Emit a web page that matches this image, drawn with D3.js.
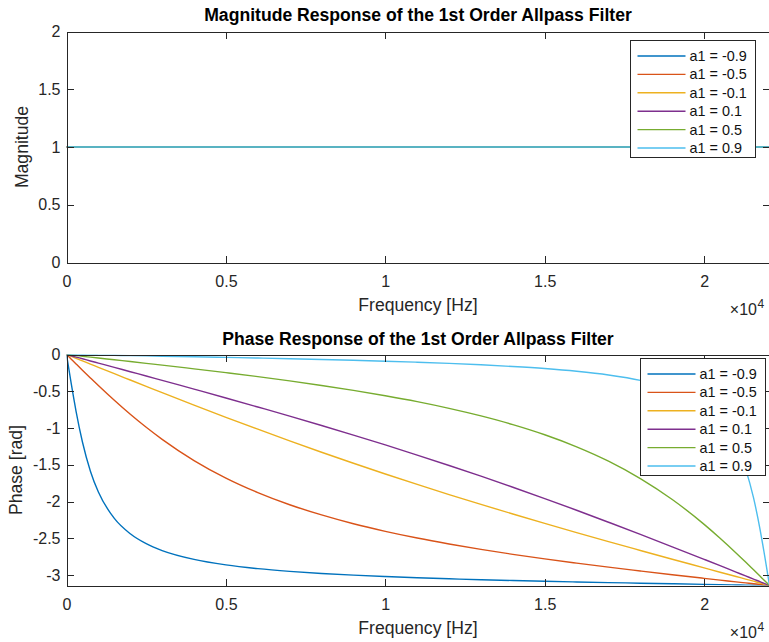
<!DOCTYPE html>
<html>
<head>
<meta charset="utf-8">
<script src="https://cdn.jsdelivr.net/npm/d3@7"></script>
<style>
body { margin: 0; background: #fff; }
svg { display: block; font-family: "Liberation Sans", Arial, Helvetica, sans-serif; }
</style>
</head>
<body>
<div class="container"></div>
<script>
// Allpass filter responses for six values of a1, sampled 0 .. fs/2 (Hz)
const seriesNames = ['a1 = -0.9', 'a1 = -0.5', 'a1 = -0.1', 'a1 = 0.1', 'a1 = 0.5', 'a1 = 0.9']
const colors = ['#0072BD', '#D95319', '#EDB120', '#7E2F8E', '#77AC30', '#4DBEEE']

// magnitude is flat for every a1
const magFreqs = [0, 5000, 10000, 15000, 20000, 22050]
const magM09 = [1, 1, 1, 1, 1, 1]
const magM05 = [1, 1, 1, 1, 1, 1]
const magM01 = [1, 1, 1, 1, 1, 1]
const magP01 = [1, 1, 1, 1, 1, 1]
const magP05 = [1, 1, 1, 1, 1, 1]
const magP09 = [1, 1, 1, 1, 1, 1]

const freqs = [0, 150, 300, 500, 750, 1000, 1500, 2000, 2500, 3000, 4000, 5000, 6000, 7000, 8000, 9000, 10000,
	11000, 12000, 13000, 14000, 15000, 16000, 17000, 18000, 19000, 20000, 20500, 21000, 21300, 21550, 21750, 21900, 22000, 22050]

const phaseM09 = [0, -0.401, -0.772, -1.190, -1.587, -1.871, -2.229, -2.438, -2.573, -2.666, -2.786, -2.861, -2.912, -2.949, -2.978, -3.001, -3.020,
	-3.036, -3.050, -3.063, -3.074, -3.084, -3.093, -3.102, -3.110, -3.118, -3.126, -3.130, -3.134, -3.136, -3.138, -3.139, -3.141, -3.141, -3.142]
const phaseM05 = [0, -0.064, -0.128, -0.213, -0.318, -0.422, -0.623, -0.813, -0.990, -1.154, -1.442, -1.681, -1.878, -2.043, -2.182, -2.302, -2.405,
	-2.496, -2.577, -2.651, -2.718, -2.780, -2.837, -2.892, -2.944, -2.995, -3.044, -3.068, -3.092, -3.106, -3.118, -3.127, -3.135, -3.139, -3.142]
const phaseM01 = [0, -0.026, -0.052, -0.087, -0.131, -0.174, -0.261, -0.347, -0.433, -0.519, -0.688, -0.854, -1.016, -1.175, -1.329, -1.479, -1.625,
	-1.767, -1.905, -2.039, -2.169, -2.297, -2.422, -2.545, -2.665, -2.784, -2.902, -2.961, -3.019, -3.054, -3.083, -3.107, -3.124, -3.136, -3.142]
const phaseP01 = [0, -0.017, -0.035, -0.058, -0.088, -0.117, -0.175, -0.234, -0.292, -0.352, -0.471, -0.591, -0.714, -0.838, -0.966, -1.096, -1.230,
	-1.368, -1.510, -1.655, -1.805, -1.959, -2.118, -2.281, -2.446, -2.615, -2.786, -2.872, -2.959, -3.011, -3.055, -3.089, -3.116, -3.133, -3.142]
const phaseP05 = [0, -0.007, -0.014, -0.024, -0.036, -0.048, -0.072, -0.096, -0.120, -0.144, -0.195, -0.247, -0.301, -0.359, -0.421, -0.488, -0.561,
	-0.641, -0.732, -0.835, -0.953, -1.091, -1.255, -1.450, -1.687, -1.972, -2.310, -2.499, -2.699, -2.823, -2.929, -3.014, -3.078, -3.120, -3.142]
const phaseP09 = [0, -0.001, -0.002, -0.004, -0.006, -0.008, -0.011, -0.015, -0.019, -0.023, -0.031, -0.039, -0.048, -0.057, -0.067, -0.079, -0.091,
	-0.105, -0.121, -0.140, -0.163, -0.191, -0.228, -0.278, -0.351, -0.468, -0.687, -0.886, -1.225, -1.555, -1.951, -2.370, -2.741, -3.006, -3.142]

const xTicks = [0, 5000, 10000, 15000, 20000]
const xTickLabels = ['0', '0.5', '1', '1.5', '2']
const magTicks = [0, 0.5, 1, 1.5, 2]
const magTickLabels = ['0', '0.5', '1', '1.5', '2']
const phaseTicks = [0, -0.5, -1, -1.5, -2, -2.5, -3]
const phaseTickLabels = ['0', '-0.5', '-1', '-1.5', '-2', '-2.5', '-3']

const axisColor = '#262626'

var svg = d3.select('.container')
.append('svg')
.attr('width', 769)
.attr('height', 642);

function drawPanel(p) {
	var x = d3.scaleLinear().domain([0, 22050]).range([66.5, 769.5])
	var y = d3.scaleLinear().domain(p.yDomain).range(p.yRange)
	var left = x.range()[0], right = x.range()[1]
	var top = Math.min(p.yRange[0], p.yRange[1]), bottom = Math.max(p.yRange[0], p.yRange[1])

	var g = svg.append('g')

	g.append('clipPath')
	.attr('id', p.id + '-clip')
	.append('rect')
	.attr('x', left)
	.attr('y', top)
	.attr('width', right - left)
	.attr('height', bottom - top)

	// curves
	var line = d3.line()
	.x(d => x(d[0]))
	.y(d => y(d[1]))
	.curve(d3.curveMonotoneX)

	p.series.forEach((vals, i) => {
		g.append('path')
		.datum(p.freqs.map((f, j) => [f, vals[j]]))
		.attr('clip-path', 'url(#' + p.id + '-clip)')
		.attr('fill', 'none')
		.attr('stroke', colors[i])
		.attr('stroke-width', 1.4)
		.attr('d', line)
	})

	// box with inward ticks on all four sides
	var xb = g.append('g')
	.attr('transform', 'translate(0,' + bottom + ')')
	.call(d3.axisBottom(x).tickValues(xTicks).tickFormat((d, i) => xTickLabels[i]).tickSizeInner(-7).tickSizeOuter(0))
	xb.selectAll('text').attr('dy', null).attr('y', 24).style('font-size', '16px')

	g.append('g')
	.attr('transform', 'translate(0,' + top + ')')
	.call(d3.axisTop(x).tickValues(xTicks).tickFormat('').tickSizeInner(-7).tickSizeOuter(0))

	var yl = g.append('g')
	.attr('transform', 'translate(' + left + ',0)')
	.call(d3.axisLeft(y).tickValues(p.yTicks).tickFormat((d, i) => p.yTickLabels[i]).tickSizeInner(-7).tickSizeOuter(0).tickPadding(6))
	yl.selectAll('text').style('font-size', '16px')

	g.append('g')
	.attr('transform', 'translate(' + right + ',0)')
	.call(d3.axisRight(y).tickValues(p.yTicks).tickFormat('').tickSizeInner(-7).tickSizeOuter(0))

	g.selectAll('.domain, .tick line')
	.attr('stroke', axisColor)
	.attr('shape-rendering', 'crispEdges')
	g.selectAll('.tick text').attr('fill', axisColor)
	g.selectAll('.tick').each(function () { d3.select(this.parentNode).attr('font-family', null) })

	// title and labels
	g.append('text')
	.attr('x', 418)
	.attr('y', p.titleY)
	.attr('text-anchor', 'middle')
	.attr('font-weight', 'bold')
	.attr('font-size', 17.6)
	.attr('fill', '#000')
	.text(p.title)

	g.append('text')
	.attr('x', 418)
	.attr('y', bottom + 48.5)
	.attr('text-anchor', 'middle')
	.attr('font-size', 17.6)
	.attr('fill', axisColor)
	.text('Frequency [Hz]')

	g.append('text')
	.attr('transform', 'translate(' + p.yLabelX + ',' + ((top + bottom) / 2) + ') rotate(-90)')
	.attr('text-anchor', 'middle')
	.attr('font-size', 17.6)
	.attr('fill', axisColor)
	.text(p.yLabel)

	// exponent label
	g.append('text')
	.attr('x', 757)
	.attr('y', bottom + 52)
	.attr('text-anchor', 'end')
	.attr('font-size', 16)
	.attr('fill', axisColor)
	.text('\u00d710')
	g.append('text')
	.attr('x', 757.5)
	.attr('y', bottom + 45)
	.attr('font-size', 12)
	.attr('fill', axisColor)
	.text('4')

	// legend
	var lg = g.append('g')
	.attr('transform', 'translate(' + p.legendX + ',' + p.legendY + ')')
	lg.append('rect')
	.attr('width', 125)
	.attr('height', 117)
	.attr('fill', '#fff')
	.attr('stroke', axisColor)
	.attr('shape-rendering', 'crispEdges')
	seriesNames.forEach((name, i) => {
		var ry = 15.5 + i * 18.4
		lg.append('line')
		.attr('x1', 7)
		.attr('x2', 55)
		.attr('y1', ry)
		.attr('y2', ry)
		.attr('stroke', colors[i])
		.attr('stroke-width', 1.4)
		lg.append('text')
		.attr('x', 59)
		.attr('y', ry)
		.attr('dy', '0.35em')
		.attr('font-size', 14.4)
		.attr('fill', '#111')
		.text(name)
	})
}

drawPanel({
	id: 'mag',
	title: 'Magnitude Response of the 1st Order Allpass Filter',
	titleY: 21,
	yLabel: 'Magnitude',
	yLabelX: 28,
	yDomain: [0, 2],
	yRange: [262.5, 31.5],
	yTicks: magTicks,
	yTickLabels: magTickLabels,
	freqs: magFreqs,
	series: [magM09, magM05, magM01, magP01, magP05, magP09],
	legendX: 630.5,
	legendY: 40.5
})

drawPanel({
	id: 'phase',
	title: 'Phase Response of the 1st Order Allpass Filter',
	titleY: 345,
	yLabel: 'Phase [rad]',
	yLabelX: 21.5,
	yDomain: [-Math.PI, 0],
	yRange: [585.5, 354.5],
	yTicks: phaseTicks,
	yTickLabels: phaseTickLabels,
	freqs: freqs,
	series: [phaseM09, phaseM05, phaseM01, phaseP01, phaseP05, phaseP09],
	legendX: 640.5,
	legendY: 358.5
})
</script>
</body>
</html>
